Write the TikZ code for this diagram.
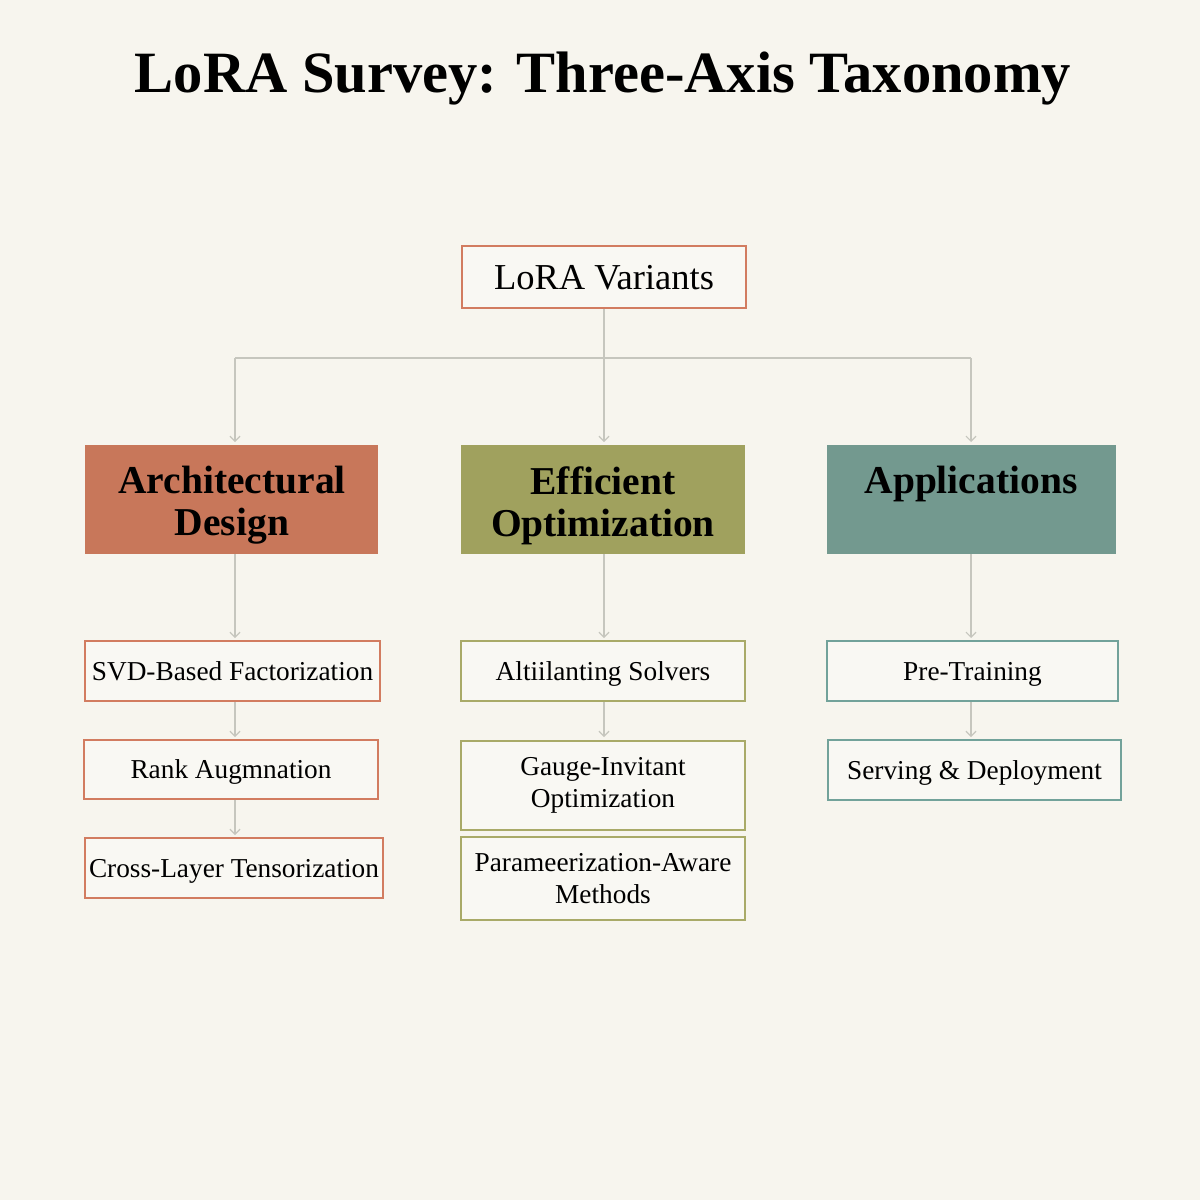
\documentclass[tikz,border=0pt]{standalone}
\usepackage{fontspec}
\setmainfont{Liberation Serif}
\usetikzlibrary{arrows.meta}
\definecolor{bgc}{HTML}{F7F5EE}
\definecolor{leaffill}{HTML}{F9F8F3}
\definecolor{archc}{HTML}{C8775A}
\definecolor{archb}{HTML}{D27C60}
\definecolor{effc}{HTML}{A0A15E}
\definecolor{effb}{HTML}{A9AA68}
\definecolor{appc}{HTML}{73998F}
\definecolor{appb}{HTML}{72A29A}
\definecolor{linec}{HTML}{C6C6BE}
\tikzset{
  box/.style={rectangle, inner sep=0pt, line width=1.8pt, fill=leaffill, align=center,
    font=\fontsize{27.3}{32}\selectfont},
  oneline/.style={text height=18pt, text depth=0pt},
  catbox/.style={rectangle, inner sep=0pt, draw=none},
  cattext/.style={inner sep=0pt, align=center, anchor=north, font=\fontsize{39.5}{42}\bfseries\selectfont},
  conn/.style={draw=linec, line width=1.4pt},
  arr/.style={conn, -{Straight Barb[length=5pt, width=10pt, line width=1.2pt]}}
}
\begin{document}
\begin{tikzpicture}[x=1pt, y=-1pt]
\useasboundingbox (0,0) rectangle (1200,1200);
\fill[bgc] (0,0) rectangle (1200,1200);

\node[inner sep=0pt, anchor=base, font=\fontsize{58.5}{60}\bfseries\selectfont] (title) at (603,92) {LoRA Survey: Three-Axis Taxonomy};

% root
\node[box, draw=archb, minimum width=284pt, minimum height=62pt, font=\fontsize{36.5}{40}\selectfont, text height=24pt, text depth=0pt] (root) at (604,277) {LoRA Variants};

% categories
\node[catbox, fill=archc, minimum width=293pt, minimum height=109pt] (arch) at (231.5,499.5) {};
\node[catbox, fill=effc, minimum width=284pt, minimum height=109pt] (eff) at (603,499.5) {};
\node[catbox, fill=appc, minimum width=289pt, minimum height=109pt] (app) at (971.5,499.5) {};
\node[cattext] (archt) at (232,466) {Architectural\\Design};
\node[cattext] (efft) at (603,466) {Efficient\\Optimization};
\node[cattext] (appt) at (971,466) {Applications};

% leaves: architectural
\node[box, oneline, draw=archb, minimum width=295pt, minimum height=60pt] (svd) at (232.5,671) {SVD-Based Factorization};
\node[box, oneline, draw=archb, minimum width=294pt, minimum height=59pt] (rank) at (231,769.5) {Rank Augmnation};
\node[box, oneline, draw=archb, minimum width=298pt, minimum height=60pt] (cross) at (234,868) {Cross-Layer Tensorization};

% leaves: efficient
\node[box, oneline, draw=effb, minimum width=284pt, minimum height=60pt] (alt) at (603,671) {Altiilanting Solvers};
\node[box, draw=effb, minimum width=284pt, minimum height=89pt] (gauge) at (603,785.5) {Gauge-Invitant\\Optimization};
\node[box, draw=effb, minimum width=284pt, minimum height=83pt] (param) at (603,878.5) {Parameerization-Aware\\Methods};

% leaves: applications
\node[box, oneline, draw=appb, minimum width=291pt, minimum height=60pt] (pre) at (972.5,671) {Pre-Training};
\node[box, oneline, draw=appb, minimum width=293pt, minimum height=60pt] (serve) at (974.5,770) {Serving \& Deployment};

% connectors
\coordinate (hub) at (604,358);
\draw[conn] (root.south) -- (hub);
\draw[conn] (235,358) -- (971,358);
\draw[arr] (235,358) -- (235,442);
\draw[arr] (hub) -- (604,442);
\draw[arr] (971,358) -- (971,442);

\draw[arr] (arch.south -| 235,0) -- (235,638);
\draw[arr] (eff.south -| 604,0) -- (604,638);
\draw[arr] (app.south -| 971,0) -- (971,638);

\draw[arr] (svd.south -| 235,0) -- (235,737);
\draw[arr] (rank.south -| 235,0) -- (235,835);
\draw[arr] (alt.south -| 604,0) -- (604,737);
\draw[arr] (pre.south -| 971,0) -- (971,737);
\end{tikzpicture}
\end{document}
